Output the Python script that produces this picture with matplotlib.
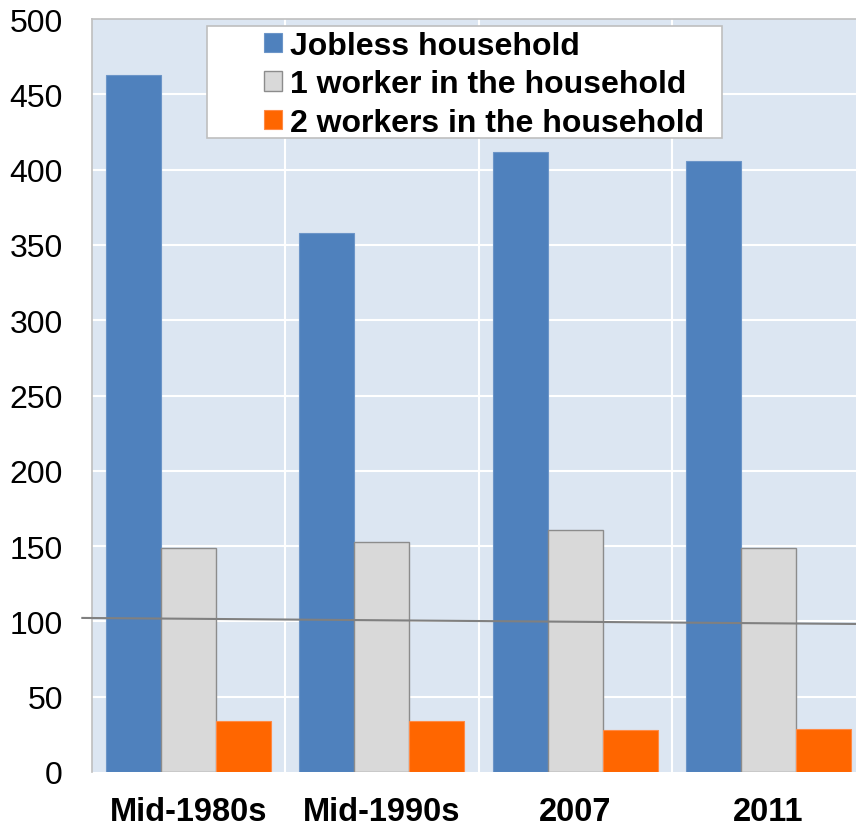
import matplotlib
matplotlib.use("Agg")
import matplotlib.pyplot as plt
import numpy as np
from matplotlib.patches import Rectangle

plt.rcParams["font.family"] = ["Liberation Sans", "DejaVu Sans"]

periods = ["Mid-1980s", "Mid-1990s", "2007", "2011"]
jobless = [463, 358, 412, 406]
one_worker = [149, 153, 161, 149]
two_workers = [34, 34, 28, 28.5]
series_names = ["Jobless household", "1 worker in the household", "2 workers in the household"]

# reference line around 100, slightly falling
ref_x = [-0.55, 3.55]
ref_y = [102.3, 98.2]

y_ticks = list(range(0, 501, 50))

W, H = 856, 828
fig = plt.figure(figsize=(W / 100, H / 100), dpi=100)
ax = fig.add_axes([92 / W, 1 - 773 / H, (865 - 92) / W, (773 - 20) / H])
ax.set_facecolor("#DCE6F2")

x = np.arange(len(periods))
bw = 0.285
b1 = ax.bar(x - bw, jobless, bw, color="#4F81BD", edgecolor="#6C95C8", linewidth=0.8, zorder=2)
b2 = ax.bar(x, one_worker, bw, color="#D9D9D9", edgecolor="#8C8C8C", linewidth=1.0, zorder=2)
b3 = ax.bar(x + bw, two_workers, bw, color="#FF6600", edgecolor="#FF8A45", linewidth=0.8, zorder=2)

ax.plot(ref_x, ref_y, color="#808080", linewidth=1.5, zorder=3, clip_on=False)

ax.set_xlim(-0.5, 3.5)
ax.set_ylim(0, 500)
ax.set_yticks(y_ticks)
ax.set_yticklabels([str(v) for v in y_ticks], fontsize=23)
ax.set_xticks(x)
ax.set_xticklabels(periods, fontsize=23.5, fontweight="bold")
ax.tick_params(axis="y", length=0, pad=21)
ax.tick_params(axis="x", length=0, pad=17)

# white grid: horizontal every 50, vertical between categories
for v in y_ticks[1:-1]:
    ax.axhline(v, color="white", linewidth=1.5, zorder=1)
for b in x[:-1] + 0.5:
    ax.axvline(b, color="white", linewidth=1.5, zorder=1)

for side in ["left", "top", "right"]:
    ax.spines[side].set_color("#BFBFBF")
    ax.spines[side].set_linewidth(1.2)
ax.spines["bottom"].set_visible(False)

# legend box drawn separately so the entries sit well inside it
fig.patches.append(Rectangle((207 / W, 1 - 139 / H), (722 - 207) / W, (139 - 27) / H,
                             transform=fig.transFigure, facecolor="white",
                             edgecolor="#BFBFBF", linewidth=1.2, zorder=5))
leg = fig.legend([b1, b2, b3], series_names, loc="upper left",
                 bbox_to_anchor=(264 / W, 1 - 32 / H), frameon=False,
                 prop={"size": 23, "weight": "bold"}, borderpad=0,
                 handlelength=0.55, handleheight=0.55, handletextpad=0.25,
                 labelspacing=0.26, borderaxespad=0)
leg.set_zorder(6)

fig.savefig("out.png", dpi=100)
